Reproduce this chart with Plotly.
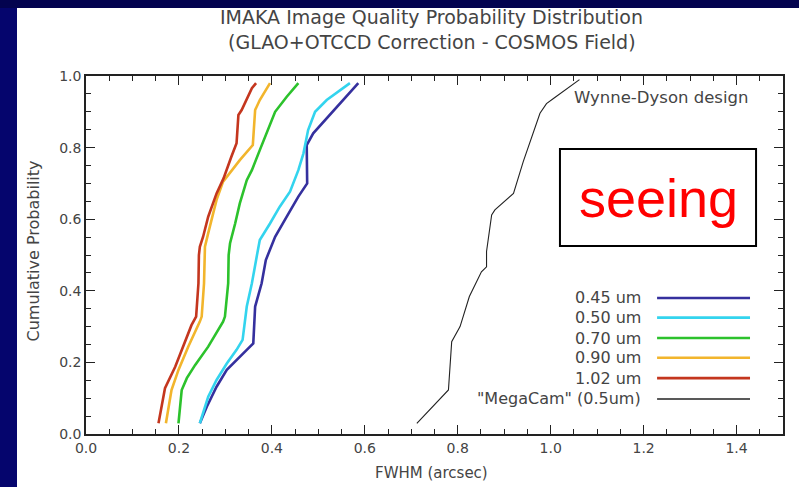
import plotly.graph_objects as go

# Cumulative FWHM distributions per wavelength (x = FWHM arcsec, y = cumulative probability)
fwhm_045 = [0.245, 0.260, 0.281, 0.303, 0.346, 0.360, 0.364, 0.378, 0.387, 0.396, 0.407,
            0.432, 0.457, 0.476, 0.475, 0.489, 0.518, 0.561, 0.586]
prob_045 = [0.03, 0.076, 0.132, 0.179, 0.235, 0.253, 0.356, 0.421, 0.486, 0.514, 0.551,
            0.607, 0.663, 0.700, 0.807, 0.840, 0.882, 0.942, 0.98]

fwhm_050 = [0.245, 0.263, 0.281, 0.303, 0.324, 0.337, 0.346, 0.357, 0.368, 0.374, 0.396,
            0.417, 0.439, 0.457, 0.468, 0.478, 0.493, 0.518, 0.568]
prob_050 = [0.03, 0.104, 0.151, 0.197, 0.235, 0.263, 0.356, 0.421, 0.500, 0.542, 0.588,
            0.635, 0.677, 0.737, 0.784, 0.849, 0.900, 0.933, 0.98]

fwhm_070 = [0.199, 0.206, 0.217, 0.235, 0.263, 0.295, 0.299, 0.306, 0.307, 0.310, 0.321,
            0.331, 0.346, 0.357, 0.374, 0.392, 0.407, 0.432, 0.457]
prob_070 = [0.03, 0.123, 0.156, 0.193, 0.244, 0.314, 0.328, 0.421, 0.500, 0.533, 0.588,
            0.644, 0.709, 0.737, 0.793, 0.849, 0.900, 0.942, 0.98]

fwhm_090 = [0.172, 0.184, 0.199, 0.220, 0.245, 0.249, 0.254, 0.255, 0.256, 0.263, 0.281,
            0.295, 0.306, 0.331, 0.359, 0.364, 0.374, 0.396]
prob_090 = [0.03, 0.123, 0.179, 0.244, 0.314, 0.328, 0.421, 0.500, 0.523, 0.561, 0.654,
            0.705, 0.723, 0.765, 0.807, 0.905, 0.933, 0.98]

fwhm_102 = [0.156, 0.170, 0.192, 0.209, 0.227, 0.237, 0.242, 0.243, 0.245, 0.252, 0.263,
            0.281, 0.296, 0.313, 0.324, 0.328, 0.335, 0.357, 0.366]
prob_102 = [0.03, 0.128, 0.188, 0.244, 0.304, 0.328, 0.421, 0.500, 0.523, 0.551, 0.607,
            0.672, 0.714, 0.775, 0.812, 0.891, 0.905, 0.966, 0.98]

fwhm_megacam = [0.712, 0.780, 0.787, 0.805, 0.825, 0.851, 0.862, 0.862, 0.873, 0.880,
                0.920, 0.941, 0.977, 0.991, 1.006, 1.062]
prob_megacam = [0.03, 0.123, 0.258, 0.300, 0.384, 0.453, 0.467, 0.510, 0.612, 0.626,
                0.672, 0.761, 0.896, 0.923, 0.937, 0.99]

series_names = ["0.45 um", "0.50 um", "0.70 um", "0.90 um", "1.02 um", '"MegaCam" (0.5um)']
series_x = [fwhm_045, fwhm_050, fwhm_070, fwhm_090, fwhm_102, fwhm_megacam]
series_y = [prob_045, prob_050, prob_070, prob_090, prob_102, prob_megacam]
series_colors = ["#35309e", "#33d4ee", "#2cc22c", "#f2b52c", "#c4361e", "#222222"]
series_widths = [2.6, 2.6, 2.6, 2.6, 2.6, 1.1]

x_ticks = [0.0, 0.2, 0.4, 0.6, 0.8, 1.0, 1.2, 1.4]
y_ticks = [0.0, 0.2, 0.4, 0.6, 0.8, 1.0]

title_lines = ["IMAKA Image Quality Probability Distribution",
               "(GLAO+OTCCD Correction - COSMOS Field)"]
x_title = "FWHM (arcsec)"
y_title = "Cumulative Probability"

TXT = "#444444"
AXC = "#222222"
FONT = "DejaVu Sans"

fig = go.Figure()
for name, xs, ys, col, w in zip(series_names, series_x, series_y, series_colors, series_widths):
    fig.add_trace(go.Scatter(x=xs, y=ys, mode="lines", name=name,
                             line=dict(color=col, width=w), showlegend=False))

# Invisible trace so the mirrored top/right tick axes are drawn
fig.add_trace(go.Scatter(x=[0, 1.5], y=[0, 1], xaxis="x2", yaxis="y2", mode="lines",
                         line=dict(width=0), hoverinfo="skip", showlegend=False))

# White page on the navy slide background
shapes = [
    dict(type="rect", xref="paper", yref="paper", x0=-0.099, x1=1.05, y0=-0.2, y1=1.19,
         fillcolor="white", line=dict(width=0), layer="below"),
    dict(type="rect", xref="paper", yref="paper", x0=-0.2, x1=1.05, y0=1.19, y1=1.3,
         fillcolor="#03034f", line=dict(width=0), layer="below"),
    # "seeing" box
    dict(type="rect", xref="x", yref="y", x0=1.020, x1=1.442, y0=0.525, y1=0.796,
         fillcolor="rgba(0,0,0,0)", line=dict(color="black", width=2)),
]

annotations = [
    dict(x=0.496, y=1.165, xref="paper", yref="paper", text=title_lines[0], showarrow=False,
         yanchor="middle", font=dict(family=FONT, size=19, color=TXT)),
    dict(x=0.496, y=1.095, xref="paper", yref="paper", text=title_lines[1], showarrow=False,
         yanchor="middle", font=dict(family=FONT, size=19, color=TXT)),
    dict(x=0.496, y=-0.109, xref="paper", yref="paper", text=x_title, showarrow=False,
         yanchor="middle", font=dict(family=FONT, size=15, color=TXT)),
    dict(x=-0.076, y=0.51, xref="paper", yref="paper", text=y_title, showarrow=False,
         textangle=-90, xanchor="center", yanchor="middle",
         font=dict(family=FONT, size=16, color=TXT)),
    dict(x=1.231, y=0.66, xref="x", yref="y", text="seeing", showarrow=False,
         font=dict(family="Liberation Sans", size=54, color="#ff0000")),
    dict(x=1.046, y=0.941, xref="x", yref="y", text="Wynne-Dyson design", showarrow=False,
         xanchor="left", font=dict(family=FONT, size=16.5, color=TXT)),
]

# Key: label on the left, line sample on the right
legend_y = [0.380, 0.325, 0.268, 0.213, 0.156, 0.098]
for name, col, w, ly in zip(series_names, series_colors, series_widths, legend_y):
    annotations.append(dict(x=1.199, y=ly, xref="x", yref="y", text=name, showarrow=False,
                            xanchor="right", font=dict(family=FONT, size=16, color=TXT)))
    shapes.append(dict(type="line", xref="x", yref="y", x0=1.229, x1=1.429, y0=ly, y1=ly,
                       line=dict(color=col, width=max(w, 1.5))))

axis_common = dict(
    showgrid=False, zeroline=False, showline=True, linecolor=AXC, linewidth=1.5,
    ticks="inside", ticklen=9, tickwidth=1.3, tickcolor=AXC, automargin=False,
)
minor_ticks = dict(dtick=0.05, tick0=0, ticks="inside", ticklen=5, tickcolor=AXC, tickwidth=1.1)
tick_font = dict(family=FONT, size=14, color=TXT)

fig.update_layout(
    width=799, height=487,
    margin=dict(l=86, r=16, t=76, b=53, autoexpand=False),
    paper_bgcolor="#05056d",
    plot_bgcolor="white",
    shapes=shapes,
    annotations=annotations,
    xaxis=dict(range=[0, 1.5], tickvals=x_ticks, ticktext=[f"{v:.1f}" for v in x_ticks],
               minor=minor_ticks, tickfont=tick_font, **axis_common),
    yaxis=dict(range=[0, 1.0], tickvals=y_ticks, ticktext=[f"{v:.1f}" for v in y_ticks],
               minor=minor_ticks, tickfont=tick_font, **axis_common),
    xaxis2=dict(range=[0, 1.5], overlaying="x", side="top", anchor="y2", tickvals=x_ticks,
                showticklabels=False, minor=minor_ticks, **axis_common),
    yaxis2=dict(range=[0, 1.0], overlaying="y", side="right", anchor="x2", tickvals=y_ticks,
                showticklabels=False, minor=minor_ticks, **axis_common),
)

fig.write_html("out.html")
